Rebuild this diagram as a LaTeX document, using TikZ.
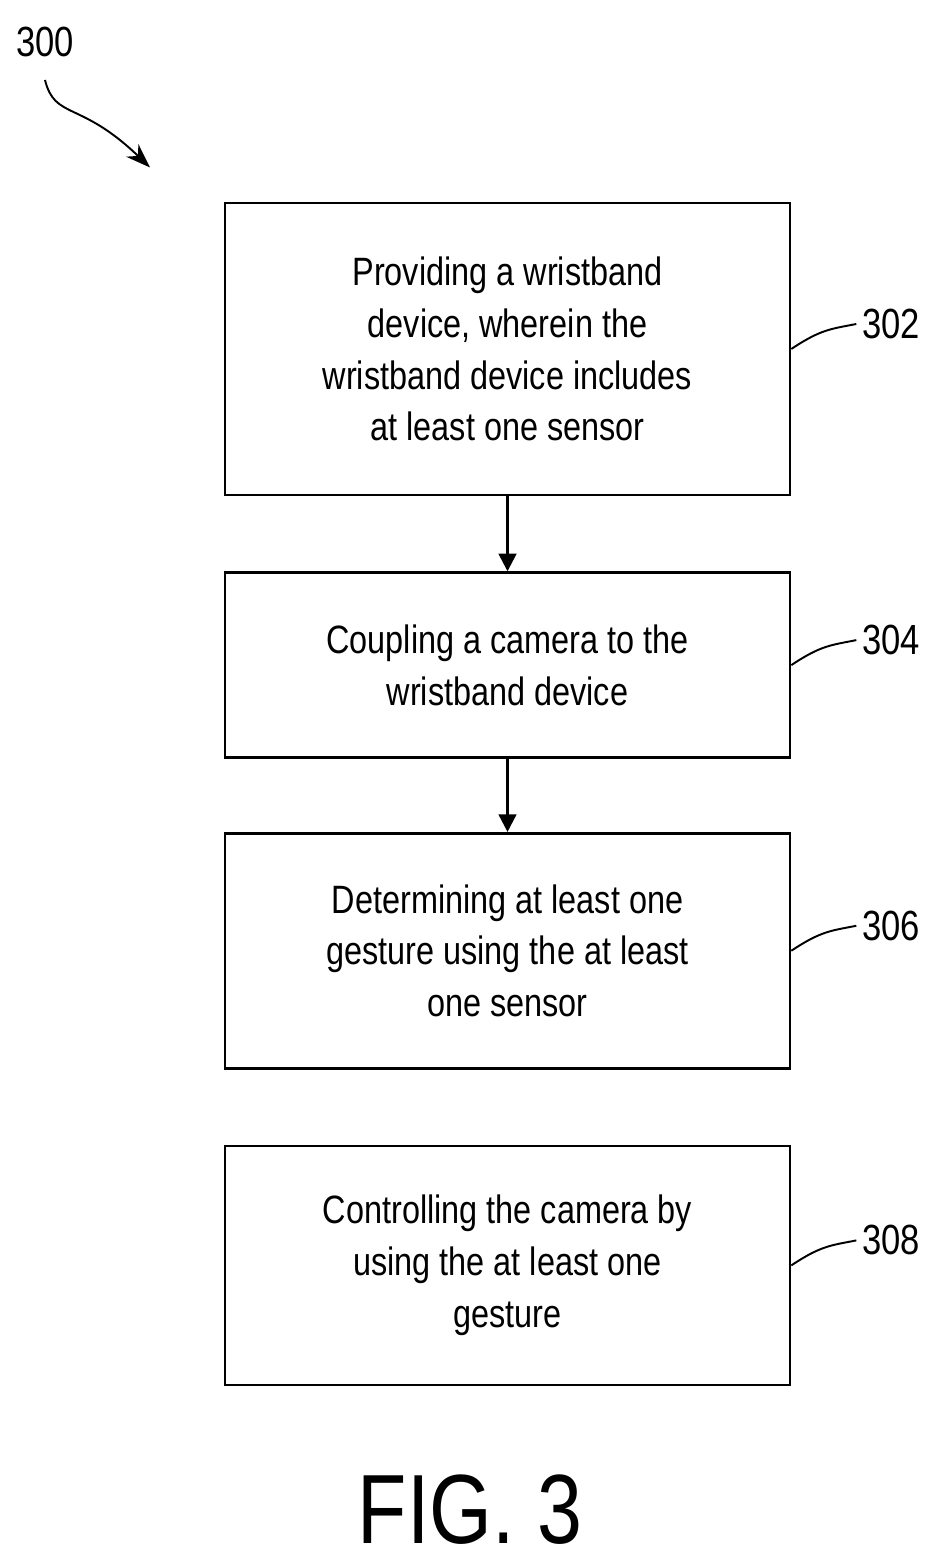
\documentclass[tikz,border=0pt]{standalone}
\usepackage{fontspec}
\setmainfont{Liberation Sans}[FakeStretch=0.82]
\usetikzlibrary{positioning,arrows.meta}
\begin{document}
\begin{tikzpicture}
    \useasboundingbox (0,0) rectangle (18.9,31.3);
    % set the styles of the steps and the arrows
    \tikzset{
        stepbox/.style={
            draw,
            line width=1.5pt,
            minimum width=11.3cm,
            align=center,
            font=\fontsize{22.5}{29.5}\selectfont
            },
        flow/.style={-{Triangle[length=10pt,width=10pt]}, line width=1.5pt},
        lead/.style={line width=1.1pt}
    }

    % steps
    \node[stepbox, minimum height=5.84cm] (s302) at (10.15,24.32)
        {Providing a wristband\\device, wherein the\\wristband device includes\\at least one sensor};
    \node[stepbox, minimum height=3.7cm, below=1.5cm of s302] (s304)
        {Coupling a camera to the\\wristband device};
    \node[stepbox, minimum height=4.7cm, below=1.46cm of s304] (s306)
        {Determining at least one\\gesture using the at least\\one sensor};
    \node[stepbox, minimum height=4.78cm, below=1.5cm of s306] (s308)
        {Controlling the camera by\\using the at least one\\gesture};

    % arrows between the steps
    \draw[flow] (s302) -- (s304);
    \draw[flow] (s304) -- (s306);

    % reference numerals
    \foreach \s in {302,304,306,308} {
        \node[font=\fontsize{24}{28}\selectfont, right=1.3cm of s\s.east, yshift=0.5cm] (n\s) {\s};
        \draw[lead] (s\s.east) .. controls +(0.6,0.4) and +(-0.5,-0.1) .. (n\s.west);
    }

    % figure numeral and its arrow
    \node[font=\fontsize{24}{28}\selectfont] (n300) at (0.9,30.45) {300};
    \coordinate (tip) at (3.0,27.95);
    \draw[line width=1.1pt, -{Stealth[length=14pt,width=10pt]}] (0.9,29.7)
        .. controls (1.1,28.9) and (1.6,29.3) .. (tip);

    % caption
    \node[font=\fontsize{56}{60}\selectfont] (cap) at (9.4,1.1) {FIG. 3};
\end{tikzpicture}
\end{document}
